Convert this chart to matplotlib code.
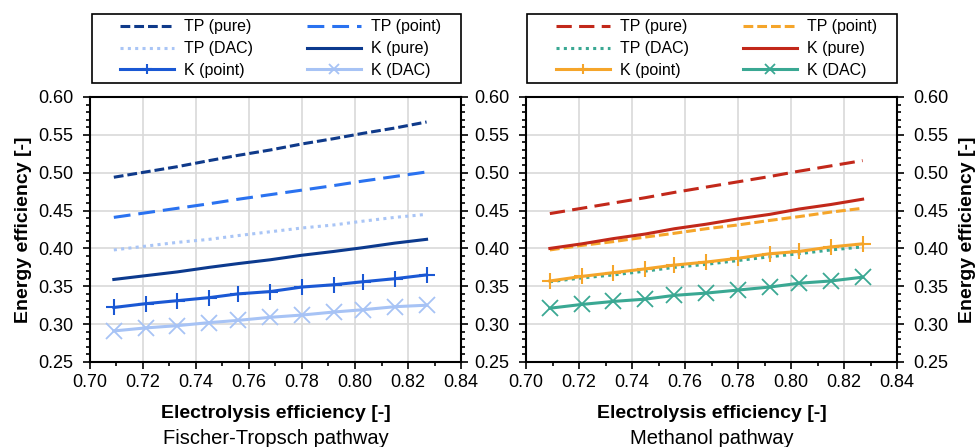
import matplotlib
matplotlib.use("Agg")
import matplotlib.pyplot as plt
from matplotlib.patches import Rectangle
from matplotlib.ticker import MultipleLocator

plt.rcParams['font.family'] = ['Liberation Sans', 'DejaVu Sans']

# Electrolysis efficiency (x values shared by all series)
electrolysis = [0.709, 0.721, 0.733, 0.745, 0.756, 0.768, 0.780, 0.792, 0.803, 0.815, 0.827]

# Fischer-Tropsch pathway
ft_tp_pure = [0.494, 0.501, 0.508, 0.516, 0.523, 0.530, 0.538, 0.545, 0.552, 0.559, 0.567]
ft_tp_point = [0.441, 0.447, 0.453, 0.459, 0.465, 0.471, 0.477, 0.483, 0.489, 0.495, 0.501]
ft_tp_dac = [0.398, 0.403, 0.408, 0.412, 0.417, 0.422, 0.427, 0.431, 0.436, 0.441, 0.445]
ft_k_pure = [0.359, 0.364, 0.369, 0.375, 0.380, 0.385, 0.391, 0.396, 0.401, 0.407, 0.412]
ft_k_point = [0.322, 0.327, 0.331, 0.335, 0.340, 0.343, 0.349, 0.352, 0.356, 0.360, 0.365]
ft_k_dac = [0.291, 0.295, 0.298, 0.302, 0.305, 0.309, 0.312, 0.316, 0.319, 0.323, 0.325]

# Methanol pathway
me_tp_pure = [0.446, 0.453, 0.460, 0.467, 0.474, 0.481, 0.488, 0.495, 0.502, 0.509, 0.516]
me_tp_point = [0.398, 0.404, 0.409, 0.415, 0.420, 0.426, 0.431, 0.437, 0.442, 0.448, 0.453]
me_tp_dac = [0.356, 0.361, 0.365, 0.370, 0.375, 0.379, 0.384, 0.389, 0.393, 0.398, 0.402]
me_k_pure = [0.400, 0.406, 0.413, 0.419, 0.426, 0.432, 0.439, 0.445, 0.452, 0.458, 0.465]
me_k_point = [0.357, 0.363, 0.368, 0.373, 0.378, 0.382, 0.387, 0.393, 0.396, 0.402, 0.406]
me_k_dac = [0.321, 0.326, 0.330, 0.333, 0.338, 0.341, 0.345, 0.349, 0.354, 0.357, 0.362]

labels = ['TP (pure)', 'TP (point)', 'TP (DAC)', 'K (pure)', 'K (point)', 'K (DAC)']

fig = plt.figure(figsize=(9.79, 4.47), dpi=100)
ax1 = fig.add_axes([0.0919, 0.1902, 0.379, 0.5928])
ax2 = fig.add_axes([0.5373, 0.1902, 0.379, 0.5928])

LW = 2.2


def draw(ax, series, colors, dashes, frame_x0):
    lines = []
    for i, (y, c, d) in enumerate(zip(series, colors, dashes)):
        kw = dict(color=c, lw=LW, label=labels[i])
        if d is not None:
            kw['dashes'] = d
        if labels[i] == 'K (point)':
            kw.update(marker='+', ms=11, mew=1.5)
        elif labels[i] == 'K (DAC)':
            kw.update(marker='x', ms=12, mew=1.3)
        ln, = ax.plot(electrolysis, y, **kw)
        lines.append(ln)
    # column-wise fill so rows read: pure/point, DAC/pure, point/DAC
    order = [0, 2, 4, 1, 3, 5]
    ax.legend([lines[k] for k in order], [labels[k] for k in order],
              ncol=2, loc='center left', mode='expand',
              bbox_to_anchor=(0.081, 1.055, 0.865, 0.255), borderaxespad=0,
              frameon=False, fontsize=11.5, handlelength=3.4,
              handletextpad=0.6, numpoints=1, markerscale=0.6,
              borderpad=0, labelspacing=0.42)
    # legend border box above the plot
    ax.add_patch(Rectangle((frame_x0, 1.0528), 1.0 - frame_x0, 0.2604,
                           transform=ax.transAxes, fill=False,
                           edgecolor='black', lw=1.2, clip_on=False))


draw(ax1,
     [ft_tp_pure, ft_tp_point, ft_tp_dac, ft_k_pure, ft_k_point, ft_k_dac],
     ['#0f3a8a', '#2a72f0', '#a9c5f6', '#0c3a8e', '#1a58d4', '#a7c3f5'],
     [(3.2, 1.3), (5.5, 2.6), (1.0, 1.4), None, None, None], 0.0054)

draw(ax2,
     [me_tp_pure, me_tp_point, me_tp_dac, me_k_pure, me_k_point, me_k_dac],
     ['#c2281a', '#f5a52a', '#3aa893', '#c2281a', '#f5a52a', '#3aa893'],
     [(5.0, 2.4), (3.2, 1.3), (1.0, 1.4), None, None, None], 0.0027)

for ax, title in [(ax1, 'Fischer-Tropsch pathway'), (ax2, 'Methanol pathway')]:
    ax.set_xlim(0.70, 0.84)
    ax.set_ylim(0.25, 0.60)
    ax.xaxis.set_major_locator(MultipleLocator(0.02))
    ax.xaxis.set_minor_locator(MultipleLocator(0.01))
    ax.yaxis.set_major_locator(MultipleLocator(0.05))
    ax.yaxis.set_minor_locator(MultipleLocator(0.01))
    ax.xaxis.set_major_formatter(plt.FormatStrFormatter('%.2f'))
    ax.yaxis.set_major_formatter(plt.FormatStrFormatter('%.2f'))
    ax.grid(True, which='major', color='#d9d9d9', lw=1.2)
    ax.set_axisbelow(True)
    for s in ax.spines.values():
        s.set_linewidth(1.5)
    ax.tick_params(which='both', direction='out', width=1.2, labelsize=13,
                   left=True, right=True, top=False, bottom=True)
    ax.tick_params(which='major', length=5)
    ax.tick_params(which='minor', length=3)
    ax.tick_params(axis='y', which='major', pad=7)
    ax.set_xlabel('Electrolysis efficiency [-]', fontsize=14,
                  fontweight='bold', labelpad=10)
    ax.text(0.5, -0.29, title, transform=ax.transAxes, ha='center',
            va='center', fontsize=14.5)

ax1.tick_params(axis='y', labelleft=True, labelright=False)
ax1.set_ylabel('Energy efficiency [-]', fontsize=14, fontweight='bold',
               labelpad=4)

ax2.tick_params(axis='y', labelleft=True, labelright=True)
ax2.yaxis.set_label_position('right')
ax2.set_ylabel('Energy efficiency [-]', fontsize=14, fontweight='bold',
               rotation=90, labelpad=7)

fig.savefig('out.png', dpi=100)
